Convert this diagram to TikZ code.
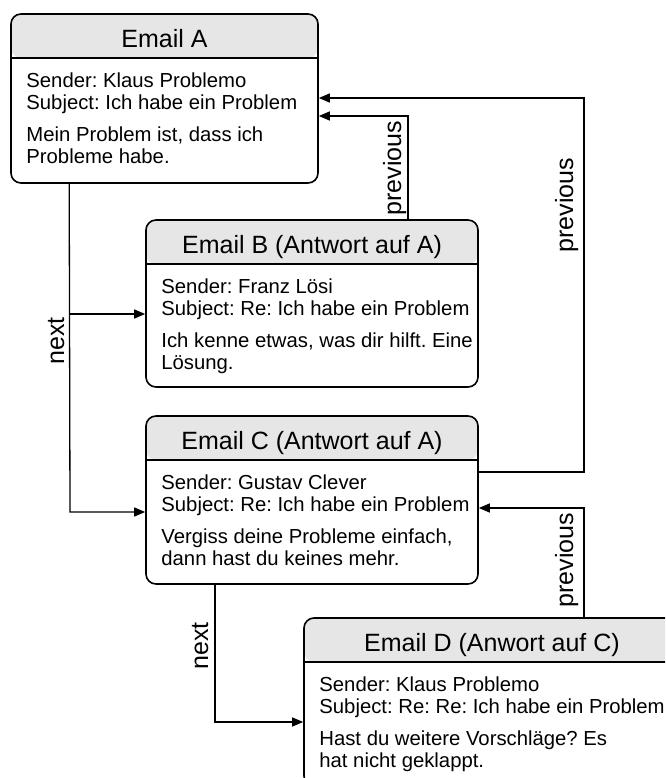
\documentclass[tikz,border=0pt]{standalone}
\usepackage{fontspec}
\setmainfont{Liberation Sans}
\usetikzlibrary{arrows.meta,positioning}
\definecolor{headgray}{RGB}{230,230,230}
\frenchspacing

\begin{document}
\begin{tikzpicture}[x=1pt,y=-1pt,
  mail/.style={draw,rounded corners=10pt,line width=1.6pt,inner sep=0pt,
    path picture={\fill[headgray] (path picture bounding box.north west) rectangle ([yshift=-44pt]path picture bounding box.north east);
      \draw[line width=1.6pt] ([yshift=-44pt]path picture bounding box.north west) -- ([yshift=-44pt]path picture bounding box.north east);}},
  head/.style={anchor=base,inner sep=0pt,font=\fontsize{25}{30}\selectfont},
  body/.style={anchor=north west,inner sep=0pt,align=left,font=\fontsize{20.3}{22}\selectfont},
  link/.style={line width=1.3pt,-{Triangle[length=11pt,width=9pt]}},
  lbl/.style={rotate=90,anchor=base,inner sep=0pt,font=\fontsize{25}{30}\selectfont}]
\useasboundingbox (0,0) rectangle (665,778);
\clip (0,0) rectangle (665,778);
% mails
\node[mail,minimum width=307pt,minimum height=169pt] (mailA) at (164.5,98.5) {};
\node[mail,minimum width=332pt,minimum height=167pt] (mailB) at (312,303.5) {};
\node[mail,minimum width=332pt,minimum height=168pt] (mailC) at (312,500) {};
\node[mail,minimum width=376pt,minimum height=168pt] (mailD) at (492,702) {};
\node[head] (headA) at ([yshift=-34pt]mailA.north) {Email A};
\node[head] (headB) at ([yshift=-34pt]mailB.north) {Email B (Antwort auf A)};
\node[head] (headC) at ([yshift=-34pt]mailC.north) {Email C (Antwort auf A)};
\node[head] (headD) at ([yshift=-34pt]mailD.north) {Email D (Anwort auf C)};
\node[body] (textA) at ([xshift=16pt,yshift=-59pt]mailA.north west) {Sender: Klaus Problemo\\Subject: Ich habe ein Problem\\[10pt]Mein Problem ist, dass ich\\Probleme habe.};
\node[body] (textB) at ([xshift=16pt,yshift=-59pt]mailB.north west) {Sender: Franz Lösi\\Subject: Re: Ich habe ein Problem\\[10pt]Ich kenne etwas, was dir hilft. Eine\\Lösung.};
\node[body] (textC) at ([xshift=16pt,yshift=-59pt]mailC.north west) {Sender: Gustav Clever\\Subject: Re: Ich habe ein Problem\\[10pt]Vergiss deine Probleme einfach,\\dann hast du keines mehr.};
\node[body] (textD) at ([xshift=16pt,yshift=-59pt]mailD.north west) {Sender: Klaus Problemo\\Subject: Re: Re: Ich habe ein Problem\\[10pt]Hast du weitere Vorschläge? Es\\hat nicht geklappt.};
% bends
\coordinate (nextAB) at (70,314);
\coordinate (nextAC) at (70,512);
\coordinate (nextCD) at (215,722);
\coordinate (prevBA) at (408,116);
\coordinate (prevC1) at (584,472);
\coordinate (prevC2) at (584,98);
\coordinate (prevDC) at (584,508);
% next
\draw[link] ([xshift=59pt]mailA.south west) -- (nextAC) -- (nextAC -| mailC.west);
\draw[link] (nextAB) -- (nextAB -| mailB.west);
\draw[link] (nextCD |- mailC.south) -- (nextCD) -- (nextCD -| mailD.west);
% previous
\draw[link] (prevBA |- mailB.north) -- (prevBA) -- (prevBA -| mailA.east);
\draw[link] (prevC1 -| mailC.east) -- (prevC1) -- (prevC2) -- (prevC2 -| mailA.east);
\draw[link] (prevDC |- mailD.north) -- (prevDC) -- (prevDC -| mailC.east);
\node[lbl] (lblNextA) at (64,341) {next};
\node[lbl] (lblNextC) at (208,646) {next};
\node[lbl] (lblPrevB) at (401,168) {previous};
\node[lbl] (lblPrevC) at (573,205) {previous};
\node[lbl] (lblPrevD) at (573,560) {previous};
\end{tikzpicture}
\end{document}
